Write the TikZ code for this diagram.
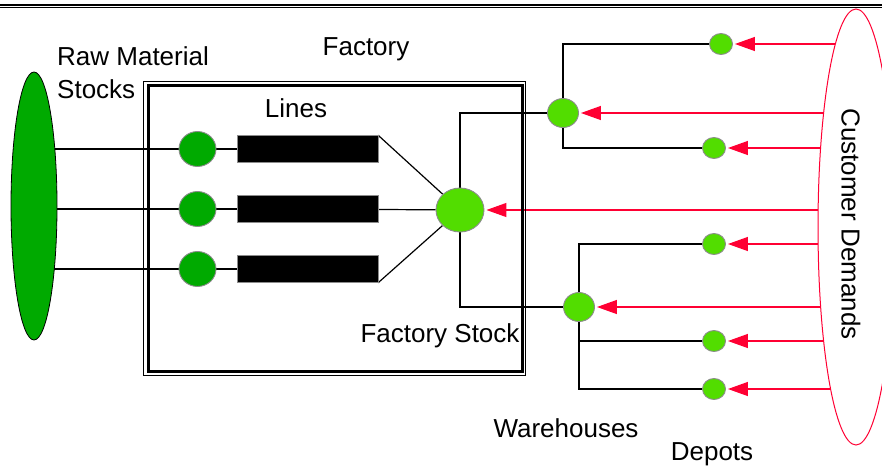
\documentclass[tikz,border=0pt]{standalone}
\usepackage{fontspec}
\setmainfont{Liberation Sans}
\definecolor{rawgreen}{RGB}{0,170,0}
\definecolor{stockgreen}{RGB}{82,221,0}
\definecolor{demred}{RGB}{255,0,51}
\definecolor{rimgray}{RGB}{140,140,140}
\usetikzlibrary{arrows.meta, shapes.geometric, backgrounds}

\begin{document}
\begin{tikzpicture}[x=1pt, y=-1pt,
  lbl/.style={inner sep=0pt, font=\fontsize{26}{33}\selectfont},
  stock/.style={ellipse, draw=rimgray, line width=0.9pt, fill=stockgreen, inner sep=0pt},
  bar/.style={rectangle, draw=rimgray, fill=black, minimum width=141pt, minimum height=27pt, inner sep=0pt},
  link/.style={line width=1.2pt},
  demand/.style={demred, line width=1.3pt, -{Triangle[length=20pt, width=14pt]}, shorten >=2pt}]
  \useasboundingbox (0,0) rectangle (882,466);

  % double rule on top
  \draw[line width=2pt] (0,4.6) -- (882,4.6);
  \draw[line width=1pt] (0,7.9) -- (882,7.9);

  % raw material stocks
  \node[ellipse, draw=black, line width=0.8pt, fill=rawgreen, minimum width=46pt,
    minimum height=268pt, inner sep=0pt] (raw) at (34,206) {};
  \node[lbl, anchor=north west, align=left] (rawlbl) at (57,46) {Raw Material\\Stocks};

  % factory box
  \draw[line width=0.9pt] (143.5,81.7) rectangle (525.8,375);
  \draw[line width=3.3pt] (148.5,85.5) rectangle (522.3,371.7);
  \node[lbl, anchor=base] (factlbl) at (366,55) {Factory};
  \node[lbl, anchor=base] (lineslbl) at (296,117) {Lines};

  % lines: machine + bar
  \foreach \k/\y in {1/149,2/209,3/269} {
    \node[stock, fill=rawgreen, minimum width=37pt, minimum height=35pt] (ln\k) at (197.5,\y) {};
    \node[bar] (bar\k) at (307.5,\y) {};
  }

  % factory stock
  \node[stock, minimum width=48pt, minimum height=44pt] (fs) at (460,210) {};
  \node[lbl, anchor=base] (fslbl) at (440,342) {Factory Stock};

  % warehouses and depots
  \node[stock, minimum width=31pt, minimum height=29pt] (wh1) at (563,113) {};
  \node[stock, minimum width=31pt, minimum height=29pt] (wh2) at (579,307) {};
  \foreach \k/\x/\y in {1/721/44, 2/714/148, 3/714/244, 4/714/341, 5/714/389}
    \node[stock, minimum width=23pt, minimum height=21pt] (dp\k) at (\x,\y) {};
  \node[lbl, anchor=base] (whlbl) at (566,437) {Warehouses};
  \node[lbl, anchor=base] (dplbl) at (712,460) {Depots};

  % customer demands
  \node[ellipse, draw=demred, line width=1pt, fill=white, minimum width=76pt,
    minimum height=436pt, inner sep=0pt] (cust) at (856,227) {};
  \node[lbl, rotate=-90] (custlbl) at (851,224) {Customer Demands};

  % connectors
  \begin{scope}[on background layer]
    \foreach \k in {1,2,3}
      \draw[link] (raw.center |- ln\k) -- (ln\k) -- (bar\k);
    \draw[link] (bar1.north east) -- (fs);
    \draw[link] (bar2) -- (fs);
    \draw[link] (bar3.south east) -- (fs);
    \draw[link] (wh1) -| (fs) |- (wh2);
    \draw[link] (dp1) -| (wh1) |- (dp2);
    \draw[link] (dp3) -| (wh2) |- (dp5);
    \draw[link] (wh2 |- dp4) -- (dp4);
    \foreach \t in {dp1,wh1,dp2,fs,dp3,wh2,dp4,dp5}
      \draw[demand] (cust.center |- \t) -- (\t);
  \end{scope}
\end{tikzpicture}
\end{document}
